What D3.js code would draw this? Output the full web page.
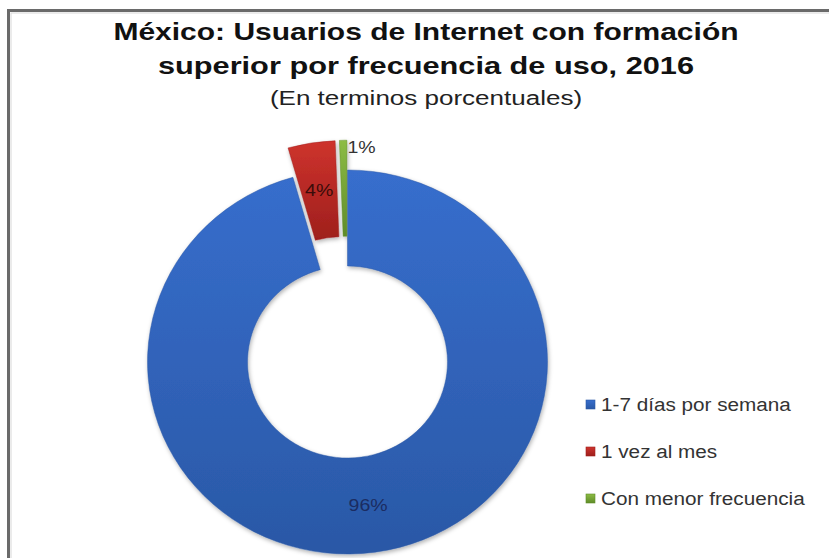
<!DOCTYPE html>
<html>
<head>
<meta charset="utf-8">
<script src="https://cdn.jsdelivr.net/npm/d3@7/dist/d3.min.js"></script>
<style>
  html, body { margin: 0; padding: 0; background: #fff; }
  svg { display: block; }
  text { font-family: "Liberation Sans", Arial, sans-serif; }
</style>
</head>
<body>
<svg id="chart" width="829" height="558"></svg>
<script>
// Usuarios de Internet con formación superior, por frecuencia de uso (%)
const categories = ["1-7 días por semana", "1 vez al mes", "Con menor frecuencia"];
const values = [95.6, 3.8, 0.6];
const colors = ["#3468c2", "#c3302b", "#86b240"];
const colorsDark = ["#2a58a6", "#9e1f1c", "#5f8c28"];
const labelColors = ["#1b2c62", "#3a0c0a", "#333333"];
const titleLines = ["México: Usuarios de Internet con formación", "superior por frecuencia de uso, 2016"];
const subtitle = "(En terminos porcentuales)";

const svg = d3.select("#chart");

// widen a text element horizontally by a factor
function widen(sel, factor) {
  sel.each(function () {
    const w = this.getComputedTextLength();
    d3.select(this).attr("textLength", w * factor).attr("lengthAdjust", "spacingAndGlyphs");
  });
  return sel;
}

const defs = svg.append("defs");
colors.forEach((c, i) => {
  const g = defs.append("linearGradient")
    .attr("id", "grad" + i).attr("x1", 0).attr("y1", 0).attr("x2", 0).attr("y2", 1);
  g.append("stop").attr("offset", "0%").attr("stop-color", d3.color(c).brighter(0.15));
  g.append("stop").attr("offset", "100%").attr("stop-color", colorsDark[i]);
});
const shadow = defs.append("filter").attr("id", "shadow")
  .attr("x", "-10%").attr("y", "-10%").attr("width", "120%").attr("height", "120%");
shadow.append("feDropShadow").attr("dx", 1).attr("dy", 2)
  .attr("stdDeviation", 2).attr("flood-color", "#000").attr("flood-opacity", 0.3);

// chart frame
svg.append("rect")
  .attr("x", 8.5).attr("y", 10.5).attr("width", 900).attr("height", 700)
  .attr("fill", "none").attr("stroke", "#6a6a6a").attr("stroke-width", 3);
svg.append("rect")
  .attr("x", 11).attr("y", 13).attr("width", 900).attr("height", 700)
  .attr("fill", "none").attr("stroke", "#d8d8d8").attr("stroke-width", 1);

// titles
const titleX = 426;
widen(svg.append("text").attr("x", titleX).attr("y", 40)
  .attr("text-anchor", "middle").attr("font-size", 24).attr("font-weight", "bold")
  .attr("fill", "#111").text(titleLines[0]), 1.25);
widen(svg.append("text").attr("x", titleX).attr("y", 74)
  .attr("text-anchor", "middle").attr("font-size", 24).attr("font-weight", "bold")
  .attr("fill", "#111").text(titleLines[1]), 1.28);
widen(svg.append("text").attr("x", titleX).attr("y", 105)
  .attr("text-anchor", "middle").attr("font-size", 20)
  .attr("fill", "#222").text(subtitle), 1.3);

// doughnut
const cx = 347.5, cy = 362, sy = 0.96;
const rOuter = 200, rInner = 100, explode = 31;
const exploded = new Set([1, 2]);

const pie = d3.pie().sort(null).value(d => d);
const arcs = pie(values);
const arc = d3.arc().innerRadius(rInner).outerRadius(rOuter);

const ring = svg.append("g").attr("filter", "url(#shadow)");
arcs.forEach((a, i) => {
  const mid = (a.startAngle + a.endAngle) / 2;
  const off = exploded.has(i) ? explode : 0;
  const dx = Math.sin(mid) * off, dy = -Math.cos(mid) * off;
  ring.append("path")
    .attr("transform", `translate(${cx + dx},${cy + dy * sy}) scale(1,${sy})`)
    .attr("d", arc(a))
    .attr("fill", `url(#grad${i})`)
    .attr("stroke", colorsDark[i]).attr("stroke-opacity", 0.6)
    .attr("stroke-width", 0.8);
});

// data labels
const fmt = v => Math.round(v) + "%";
arcs.forEach((a, i) => {
  const mid = (a.startAngle + a.endAngle) / 2;
  const off = exploded.has(i) ? explode : 0;
  let r = (rInner + rOuter) / 2 + off;
  let x = cx + Math.sin(mid) * r;
  let y = cy - Math.cos(mid) * r * sy;
  let anchor = "middle";
  if (i === 2) {
    // thin slice: label set beside the outer end of the slice
    r = rOuter + off;
    x = cx + Math.sin(a.endAngle) * r;
    y = cy - Math.cos(mid) * r * sy + 13;
    anchor = "start";
  } else {
    y += 6;
  }
  widen(svg.append("text").attr("x", x).attr("y", y)
    .attr("text-anchor", anchor).attr("font-size", 16)
    .attr("fill", labelColors[i]).text(fmt(values[i])), 1.22);
});

// legend
const legend = svg.append("g").attr("transform", "translate(586,405)");
categories.forEach((c, i) => {
  const g = legend.append("g").attr("transform", `translate(0,${i * 47})`);
  g.append("rect").attr("x", 0).attr("y", -5).attr("width", 9).attr("height", 9)
    .attr("fill", `url(#grad${i})`).attr("stroke", colorsDark[i]).attr("stroke-width", 0.6);
  widen(g.append("text").attr("x", 15).attr("y", 6)
    .attr("font-size", 18).attr("fill", "#333").text(c), 1.15);
});
</script>
</body>
</html>
